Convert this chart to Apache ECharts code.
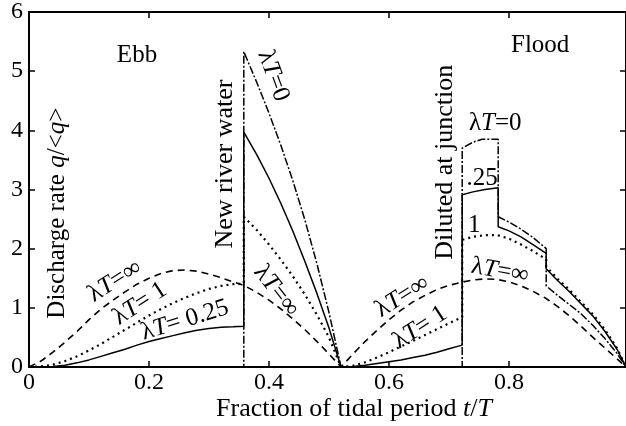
<!DOCTYPE html>
<html>
<head>
<meta charset="utf-8">
<script src="https://cdn.jsdelivr.net/npm/echarts@6/dist/echarts.min.js"></script>
<style>
html,body{margin:0;padding:0;background:#fff;}
#chart{width:626px;height:426px;}
</style>
</head>
<body>
<div id="chart"></div>
<script>
// 数据：t/T 与 q/<q>
var lamInf = [[0,0],[0.02,0.1],[0.04,0.25],[0.06,0.42],[0.08,0.6],[0.1,0.8],[0.12,0.98],[0.14,1.13],[0.16,1.27],[0.18,1.4],[0.2,1.5],[0.22,1.58],[0.24,1.63],[0.26,1.64],[0.28,1.62],[0.3,1.57],[0.32,1.51],[0.34,1.44],[0.358,1.38],[0.38,1.26],[0.4,1.13],[0.42,0.98],[0.44,0.81],[0.46,0.63],[0.48,0.43],[0.5,0.22],[0.52,0],[0.54,0.22],[0.56,0.43],[0.58,0.62],[0.6,0.8],[0.62,0.96],[0.64,1.1],[0.66,1.21],[0.68,1.31],[0.7,1.38],[0.72,1.43],[0.74,1.47],[0.76,1.49],[0.78,1.48],[0.8,1.44],[0.82,1.37],[0.84,1.28],[0.86,1.17],[0.88,1.03],[0.9,0.87],[0.92,0.69],[0.94,0.5],[0.96,0.32],[0.98,0.14],[0.995,0]];
var lamOne = [[0,0],[0.02,0.01],[0.04,0.04],[0.06,0.1],[0.08,0.18],[0.1,0.28],[0.12,0.39],[0.14,0.51],[0.16,0.63],[0.18,0.75],[0.2,0.87],[0.22,0.98],[0.24,1.08],[0.26,1.17],[0.28,1.25],[0.3,1.32],[0.32,1.37],[0.34,1.4],[0.358,1.41],[0.358,2.54],[0.38,2.31],[0.4,2.07],[0.42,1.81],[0.44,1.53],[0.46,1.22],[0.48,0.88],[0.5,0.5],[0.52,0],[0.54,0.02],[0.56,0.08],[0.58,0.16],[0.6,0.25],[0.62,0.35],[0.64,0.44],[0.66,0.54],[0.68,0.64],[0.7,0.74],[0.722,0.84],[0.722,2.15],[0.74,2.2],[0.76,2.23],[0.78,2.23],[0.8,2.17],[0.82,2.07],[0.84,1.96],[0.862,1.82],[0.862,1.7],[0.88,1.5],[0.9,1.31],[0.92,1.1],[0.94,0.89],[0.96,0.63],[0.98,0.32],[0.995,0]];
var lamQuarter = [[0,0],[0.02,0],[0.04,0.01],[0.06,0.03],[0.08,0.07],[0.1,0.12],[0.12,0.18],[0.14,0.24],[0.16,0.3],[0.18,0.37],[0.2,0.43],[0.22,0.48],[0.24,0.53],[0.26,0.58],[0.28,0.62],[0.3,0.65],[0.32,0.67],[0.34,0.68],[0.358,0.69],[0.358,3.97],[0.38,3.58],[0.4,3.19],[0.42,2.76],[0.44,2.29],[0.46,1.78],[0.48,1.24],[0.5,0.66],[0.52,0],[0.54,0.01],[0.56,0.03],[0.58,0.06],[0.6,0.09],[0.62,0.12],[0.64,0.16],[0.66,0.2],[0.68,0.25],[0.7,0.31],[0.722,0.37],[0.722,2.91],[0.74,2.96],[0.76,3.0],[0.782,3.03],[0.782,2.37],[0.8,2.3],[0.82,2.2],[0.84,2.07],[0.862,1.92],[0.862,1.66],[0.88,1.47],[0.9,1.28],[0.92,1.07],[0.94,0.86],[0.96,0.6],[0.98,0.3],[0.995,0]];
var lamZero = [[0,0],[0.358,0],[0.358,5.33],[0.38,4.8],[0.4,4.29],[0.42,3.74],[0.44,3.14],[0.46,2.48],[0.48,1.74],[0.5,0.92],[0.52,0],[0.722,0],[0.722,3.7],[0.74,3.8],[0.755,3.85],[0.782,3.85],[0.782,2.54],[0.8,2.45],[0.82,2.33],[0.84,2.19],[0.862,2.0],[0.862,1.37],[0.88,1.22],[0.9,1.06],[0.92,0.9],[0.94,0.7],[0.96,0.48],[0.98,0.23],[0.995,0]];

// 注释文字（数据坐标 + 旋转角度）
var notes = [
	{t:'{n|Ebb}', x:0.18, y:5.27, r:0},
	{t:'{n|Flood}', x:0.852, y:5.43, r:0},
	{t:'{n|Discharge rate }{i|q}{n|/<}{i|q}{n|>}', x:0.048, y:2.6, r:90},
	{t:'{b|New river water}', x:0.327, y:3.43, r:90},
	{t:'{b|Diluted at junction}', x:0.693, y:3.46, r:90},
	{t:'{n|λ}{i|T}{n|=∞}', x:0.143, y:1.45, r:32},
	{t:'{n|λ}{i|T}{n|= 1}', x:0.185, y:1.07, r:33},
	{t:'{n|λ}{i|T}{n|= 0.25}', x:0.26, y:0.79, r:17},
	{t:'{n|λ}{i|T}{n|=0}', x:0.407, y:4.92, r:-70},
	{t:'{n|λ}{i|T}{n|=∞}', x:0.412, y:1.29, r:-52},
	{t:'{n|λ}{i|T}{n|=∞}', x:0.622, y:1.19, r:32},
	{t:'{n|λ}{i|T}{n|= 1}', x:0.652, y:0.67, r:33},
	{t:'{n|λ}{i|T}{n|=0}', x:0.777, y:4.11, r:0},
	{t:'{n|.25}', x:0.755, y:3.19, r:0},
	{t:'{n|1}', x:0.742, y:2.39, r:0},
	{t:'{n|λ}{i|T}{n|=∞}', x:0.785, y:1.62, r:-10}
];

var FONT = 'Liberation Serif';
var chart = echarts.init(document.getElementById('chart'), null, {renderer:'canvas'});

function axisX(top){
	return {type:'value', min:0, max:0.995, interval:0.2, position: top ? 'top' : 'bottom',
		axisLine:{show:true, onZero:false, lineStyle:{color:'#000', width:2}},
		axisTick:{inside:true, length:6, lineStyle:{color:'#000', width:1.5}},
		axisLabel:{show:!top, showMaxLabel:false, color:'#000', fontFamily:FONT, fontSize:24, margin:4,
			formatter:function(v){ return v == 0 ? '0' : String(+v.toFixed(1)); }},
		splitLine:{show:false}};
}
function axisY(right){
	return {type:'value', min:0, max:6, interval:1, position: right ? 'right' : 'left',
		axisLine:{show:true, onZero:false, lineStyle:{color:'#000', width:2}},
		axisTick:{inside:true, length:6, lineStyle:{color:'#000', width:1.5}},
		axisLabel:{show:!right, color:'#000', fontFamily:FONT, fontSize:24, margin:6},
		splitLine:{show:false}};
}
function line(name, data, type, width){
	return {name:name, type:'line', data:data, showSymbol:false, symbol:'none', animation:false,
		lineStyle:{color:'#000', width:width, type:type, cap:'butt'}, z:3};
}

chart.setOption({
	backgroundColor:'#fff',
	animation:false,
	grid:{left:29, top:8, width:597, height:359},
	xAxis:[axisX(false), axisX(true)],
	yAxis:[axisY(false), axisY(true)],
	series:[
		line('λT=∞', lamInf, [7,5], 1.6),
		line('λT=1', lamOne, [2,4], 2.2),
		line('λT=0.25', lamQuarter, 'solid', 1.5),
		line('λT=0', lamZero, [8,2,2,2], 1.5)
	]
});

// 注释与坐标轴标题
var rich = {
	n:{fontFamily:FONT, fontSize:25, color:'#000'},
	b:{fontFamily:FONT, fontSize:26, color:'#000'},
	i:{fontFamily:FONT, fontSize:25, fontStyle:'italic', color:'#000'},
	tn:{fontFamily:FONT, fontSize:26, color:'#000'},
	ti:{fontFamily:FONT, fontSize:26, fontStyle:'italic', color:'#000'}
};
var graphics = [];
for(var k = 0; k < notes.length; k++){
	var p = chart.convertToPixel({gridIndex:0}, [notes[k].x, notes[k].y]);
	graphics.push({type:'text', x:p[0], y:p[1], rotation:notes[k].r * Math.PI / 180, z:10,
		style:{text:notes[k].t, rich:rich, align:'center', verticalAlign:'middle', fill:'#000'}});
}
graphics.push({type:'text', x:354, y:409, z:10,
	style:{text:'{tn|Fraction of tidal period }{ti|t}{tn|/}{ti|T}', rich:rich, align:'center', verticalAlign:'middle'}});
chart.setOption({graphic:graphics});
</script>
</body>
</html>
